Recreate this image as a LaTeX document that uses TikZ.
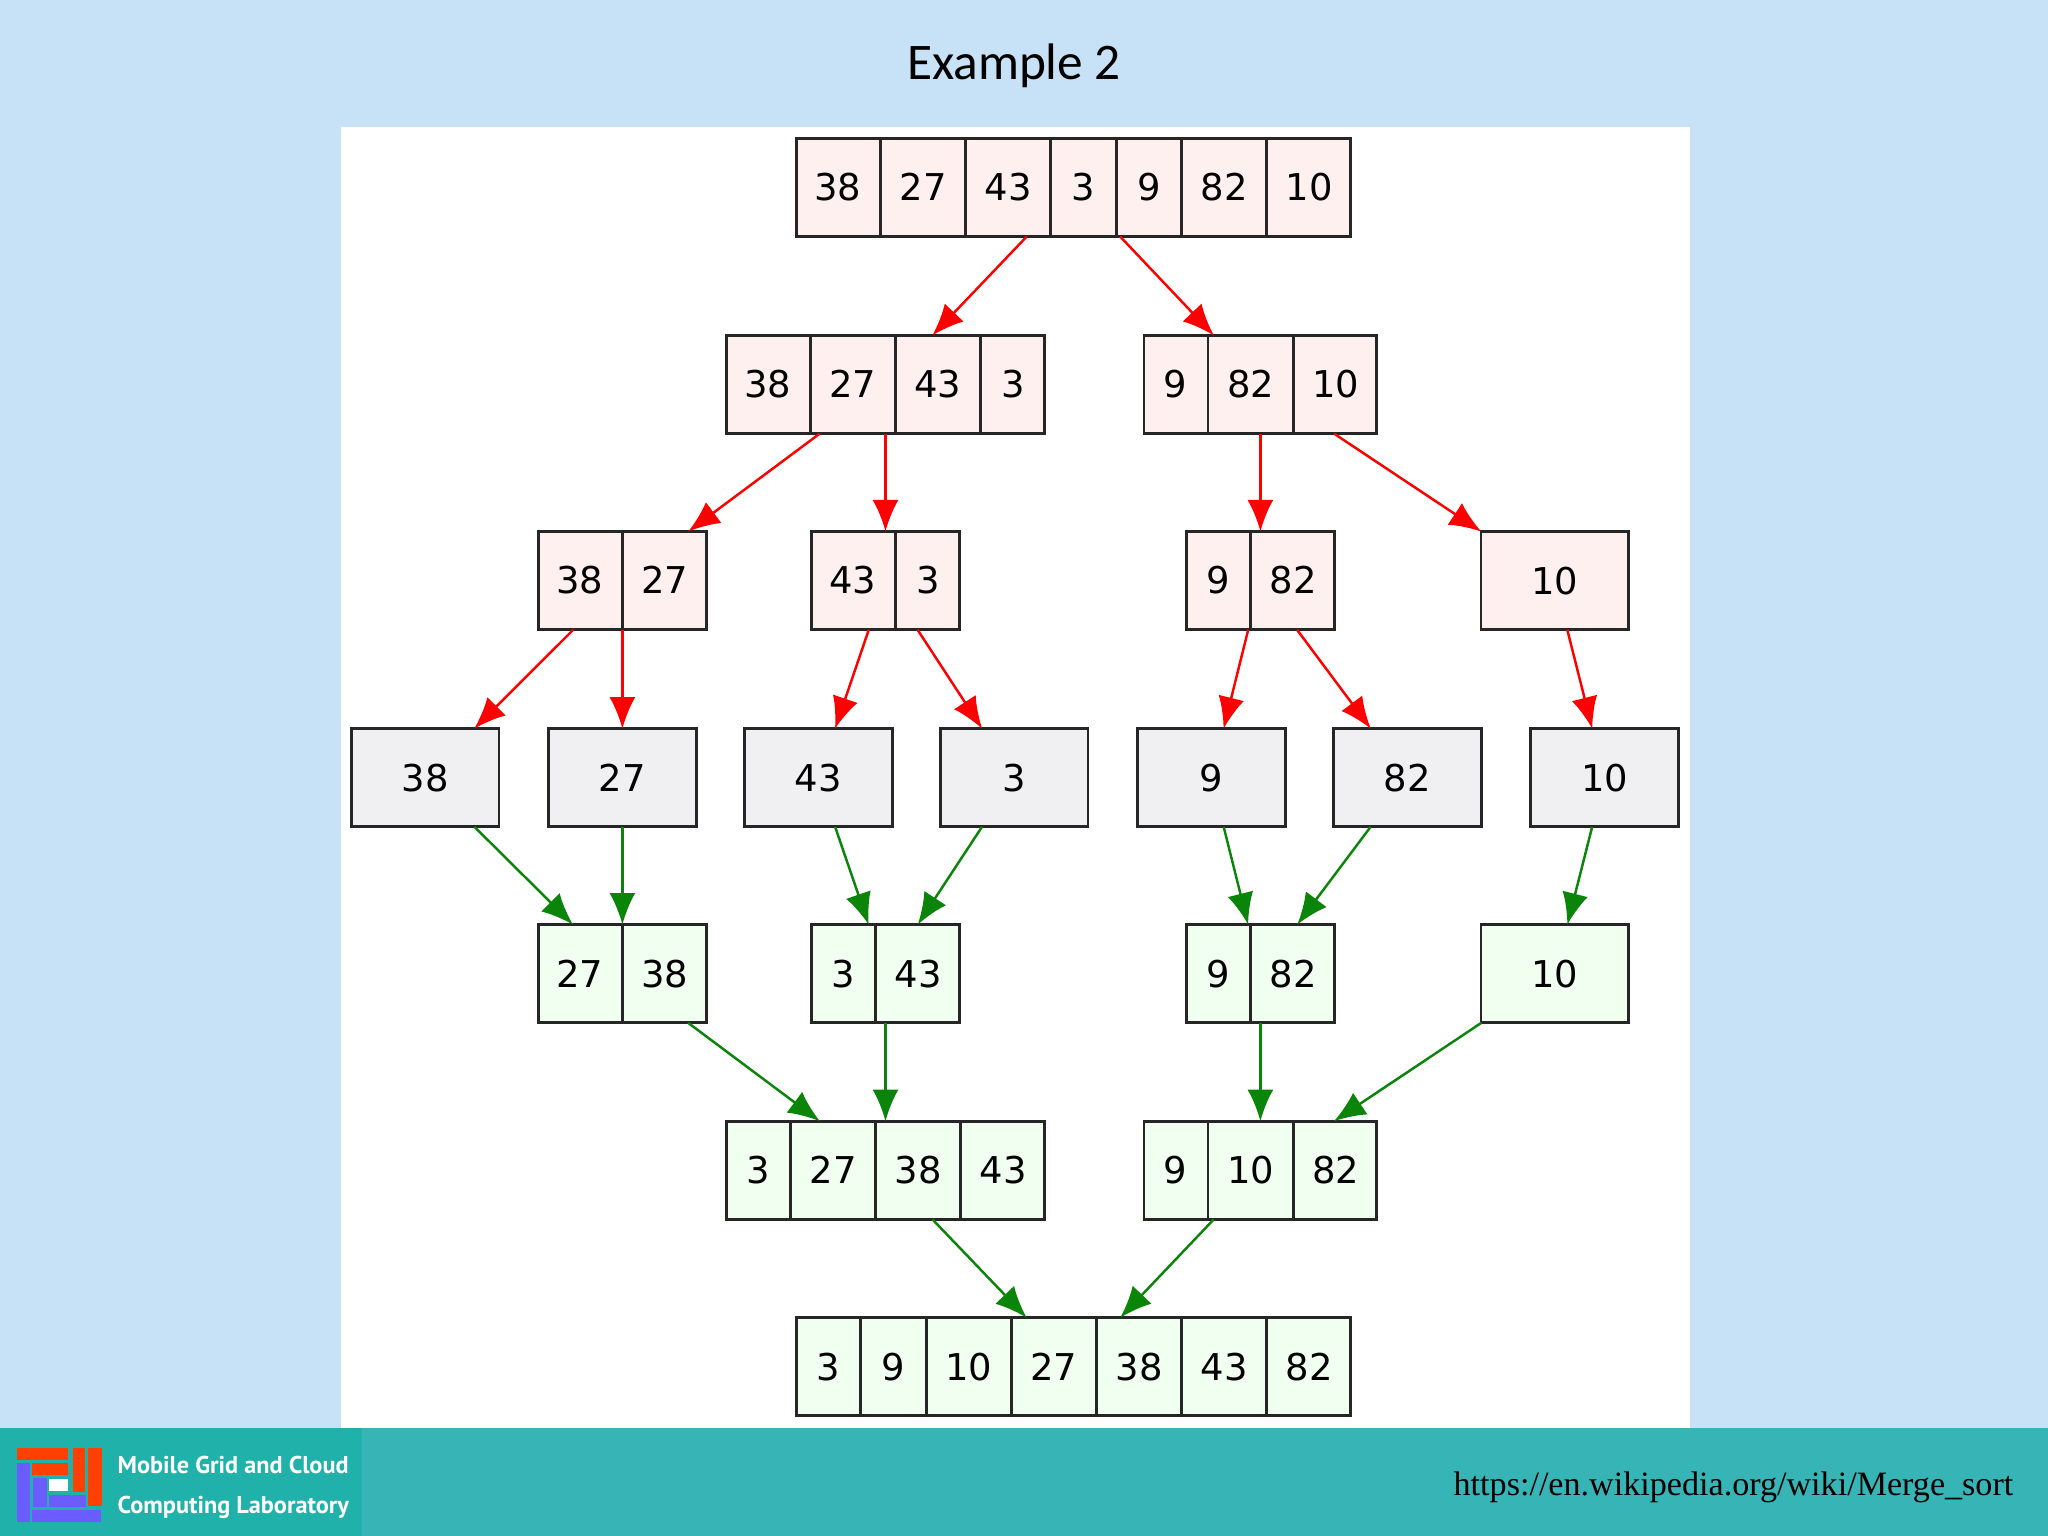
\documentclass[tikz,border=0pt]{standalone}
\usepackage{fontspec}
\setmainfont{DejaVu Sans}
\newfontfamily\titlefont{Carlito}
\newfontfamily\linkfont{Liberation Serif}
\newfontfamily\logofont{PT Sans}
\usetikzlibrary{arrows.meta}
\usetikzlibrary{shapes.multipart}
\definecolor{slideblue}{HTML}{C7E1F7}
\definecolor{footerteal}{HTML}{36B4B6}
\definecolor{logoteal}{HTML}{20B2AA}
\definecolor{logored}{HTML}{FF4000}
\definecolor{logoblue}{HTML}{6A5CFF}
\definecolor{cellpink}{HTML}{FFF0F0}
\definecolor{cellgrey}{HTML}{F0EFF2}
\definecolor{cellgreen}{HTML}{F0FFF0}
\definecolor{mergegreen}{HTML}{0A850A}
\newcommand{\cw}[1]{\makebox[23.4pt]{\rule[-10.15pt]{0pt}{27.9pt}#1}}
\newcommand{\cn}[1]{\makebox[17.8pt]{\rule[-10.15pt]{0pt}{27.9pt}#1}}
\tikzset{
  cellrow/.style={draw=black!85,line width=0.8pt,inner sep=0pt,outer sep=0pt,font=\fontsize{10.5}{12}\selectfont,
    rectangle split,rectangle split horizontal},
  onecell/.style={draw=black!85,line width=0.8pt,inner sep=0pt,outer sep=0pt,font=\fontsize{10.5}{12}\selectfont,
    rectangle,minimum width=42pt,minimum height=27.9pt},
  splitfill/.style={fill=cellpink},
  leaffill/.style={fill=cellgrey},
  mergefill/.style={fill=cellgreen},
  splitedge/.style={-{Latex[length=9pt,width=7.4pt]},red,line width=0.7pt},
  mergeedge/.style={-{Latex[length=9pt,width=7.4pt]},mergegreen,line width=0.7pt},
  brick/.style={line width=0pt},
  logotext/.style={text=white,anchor=west,inner sep=0pt,font=\logofont\bfseries\fontsize{6.9}{9}\selectfont}
}
\begin{document}
\begin{tikzpicture}[x=0.01cm,y=-0.01cm]
    \useasboundingbox (0,0) rectangle (2048,1536);
    \fill[slideblue] (0,0) rectangle (2048,1428);
    \fill[white] (341,127) rectangle (1690,1428);
    \fill[footerteal] (0,1428) rectangle (2048,1536);
    \fill[logoteal] (0,1428) rectangle (362,1536);
    % logo
    \fill[logored,brick] (17,1448) rectangle (68,1460);
    \fill[logored,brick] (32,1463) rectangle (68,1475);
    \fill[logored,brick] (73,1448) rectangle (85,1492);
    \fill[logored,brick] (88,1448) rectangle (102,1506);
    \fill[logoblue,brick] (17,1463) rectangle (30,1522);
    \fill[logoblue,brick] (33,1478) rectangle (47,1507);
    \fill[logoblue,brick] (49,1495) rectangle (86,1507);
    \fill[logoblue,brick] (32,1510) rectangle (101,1522);
    \fill[white,brick] (49,1479) rectangle (68,1491);
    \node[logotext] (logo1) at (117,1465) {Mobile Grid and Cloud};
    \node[logotext] (logo2) at (117,1507) {Computing Laboratory};
    \node[font=\titlefont\fontsize{14.6}{17}\selectfont] (title) at (1014,66) {Example 2};
    \node[anchor=east,inner sep=0pt,font=\linkfont\fontsize{9.7}{11}\selectfont] (link) at (2014,1487) {https://en.wikipedia.org/wiki/Merge\_sort};
    % splitting
    \node[cellrow,splitfill,rectangle split parts=7] (A1) at (1073.6,187.4) {\cw{38}\nodepart{two}\cw{27}\nodepart{three}\cw{43}\nodepart{four}\cn{3}\nodepart{five}\cn{9}\nodepart{six}\cw{82}\nodepart{seven}\cw{10}};
    \node[cellrow,splitfill,rectangle split parts=4] (B1) at (885.5,384.6) {\cw{38}\nodepart{two}\cw{27}\nodepart{three}\cw{43}\nodepart{four}\cn{3}};
    \node[cellrow,splitfill,rectangle split parts=3] (B2) at (1260.4,384.6) {\cn{9}\nodepart{two}\cw{82}\nodepart{three}\cw{10}};
    \node[cellrow,splitfill,rectangle split parts=2] (C1) at (622.4,580.6) {\cw{38}\nodepart{two}\cw{27}};
    \node[cellrow,splitfill,rectangle split parts=2] (C2) at (885.5,580.6) {\cw{43}\nodepart{two}\cn{3}};
    \node[cellrow,splitfill,rectangle split parts=2] (C3) at (1260.4,580.6) {\cn{9}\nodepart{two}\cw{82}};
    \node[onecell,splitfill] (C4) at (1554.9,580.6) {10};
    % single elements
    \node[onecell,leaffill] (D1) at (425.1,777.8) {38};
    \node[onecell,leaffill] (D2) at (622.4,777.8) {27};
    \node[onecell,leaffill] (D3) at (818.3,777.8) {43};
    \node[onecell,leaffill] (D4) at (1014.2,777.8) {3};
    \node[onecell,leaffill] (D5) at (1211.4,777.8) {9};
    \node[onecell,leaffill] (D6) at (1407.4,777.8) {82};
    \node[onecell,leaffill] (D7) at (1604.6,777.8) {10};
    % merging
    \node[cellrow,mergefill,rectangle split parts=2] (E1) at (622.4,973.7) {\cw{27}\nodepart{two}\cw{38}};
    \node[cellrow,mergefill,rectangle split parts=2] (E2) at (885.5,973.7) {\cn{3}\nodepart{two}\cw{43}};
    \node[cellrow,mergefill,rectangle split parts=2] (E3) at (1260.4,973.7) {\cn{9}\nodepart{two}\cw{82}};
    \node[onecell,mergefill] (E4) at (1554.9,973.7) {10};
    \node[cellrow,mergefill,rectangle split parts=4] (F1) at (885.5,1170.3) {\cn{3}\nodepart{two}\cw{27}\nodepart{three}\cw{38}\nodepart{four}\cw{43}};
    \node[cellrow,mergefill,rectangle split parts=3] (F2) at (1260.4,1170.3) {\cn{9}\nodepart{two}\cw{10}\nodepart{three}\cw{82}};
    \node[cellrow,mergefill,rectangle split parts=7] (G1) at (1073.6,1366.8) {\cn{3}\nodepart{two}\cn{9}\nodepart{three}\cw{10}\nodepart{four}\cw{27}\nodepart{five}\cw{38}\nodepart{six}\cw{43}\nodepart{seven}\cw{82}};
    \draw[splitedge] (A1) -- (B1);
    \draw[splitedge] (A1) -- (B2);
    \draw[splitedge] (B1) -- (C1);
    \draw[splitedge] (B1) -- (C2);
    \draw[splitedge] (B2) -- (C3);
    \draw[splitedge] (B2) -- (C4);
    \draw[splitedge] (C1) -- (D1);
    \draw[splitedge] (C1) -- (D2);
    \draw[splitedge] (C2) -- (D3);
    \draw[splitedge] (C2) -- (D4);
    \draw[splitedge] (C3) -- (D5);
    \draw[splitedge] (C3) -- (D6);
    \draw[splitedge] (C4) -- (D7);
    \draw[mergeedge] (D1) -- (E1);
    \draw[mergeedge] (D2) -- (E1);
    \draw[mergeedge] (D3) -- (E2);
    \draw[mergeedge] (D4) -- (E2);
    \draw[mergeedge] (D5) -- (E3);
    \draw[mergeedge] (D6) -- (E3);
    \draw[mergeedge] (D7) -- (E4);
    \draw[mergeedge] (E1) -- (F1);
    \draw[mergeedge] (E2) -- (F1);
    \draw[mergeedge] (E3) -- (F2);
    \draw[mergeedge] (E4) -- (F2);
    \draw[mergeedge] (F1) -- (G1);
    \draw[mergeedge] (F2) -- (G1);
  \end{tikzpicture}
\end{document}
